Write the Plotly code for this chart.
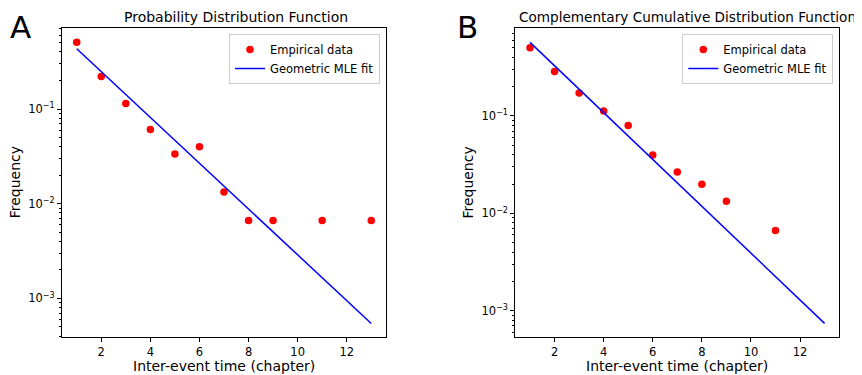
import plotly.graph_objects as go

# ---- data ----
x_pdf = [1, 2, 3, 4, 5, 6, 7, 8, 9, 11, 13]
pdf_emp = [0.507, 0.221, 0.114, 0.0607, 0.0335, 0.040, 0.0133, 0.00667, 0.00667, 0.00667, 0.00667]
x_fit = [1, 13]
pdf_fit = [0.433, 5.44e-4]

x_ccdf = [1, 2, 3, 4, 5, 6, 7, 8, 9, 11]
ccdf_emp = [0.503, 0.286, 0.172, 0.1125, 0.0797, 0.0398, 0.0266, 0.0199, 0.0133, 0.00664]
ccdf_fit = [0.571, 7.4e-4]

y_tickvals = [1e-3, 1e-2, 1e-1]
y_ticktext = ["10<sup>−3</sup>", "10<sup>−2</sup>", "10<sup>−1</sup>"]
x_tickvals = [2, 4, 6, 8, 10, 12]
minor_vals = [k * 10.0 ** e for e in range(-4, 0) for k in range(2, 10)]

titles = ["Probability Distribution Function", "Complementary Cumulative Distribution Function"]
panel_letters = ["A", "B"]
xlabel = "Inter-event time (chapter)"
ylabel = "Frequency"
legend_names = ["Empirical data", "Geometric MLE fit"]

# page is 862x375 but the html body has an 8px margin, so the figure is a bit smaller
OFF = 8
W, H = 862 - OFF, 375 - OFF
FONT = "DejaVu Sans"
RED = "#ff0000"
BLUE = "#0000ff"


def px(p):
    return (p - OFF) / W


def py(p):
    return 1 - (p - OFF) / H


fig = go.Figure()

fig.add_trace(go.Scatter(x=x_pdf, y=pdf_emp, mode="markers", name=legend_names[0],
                         marker=dict(color=RED, size=7.5), xaxis="x", yaxis="y", legend="legend"))
fig.add_trace(go.Scatter(x=x_fit, y=pdf_fit, mode="lines", name=legend_names[1],
                         line=dict(color=BLUE, width=1.5), xaxis="x", yaxis="y", legend="legend"))
fig.add_trace(go.Scatter(x=x_ccdf, y=ccdf_emp, mode="markers", name=legend_names[0],
                         marker=dict(color=RED, size=7.5), xaxis="x2", yaxis="y2", legend="legend2"))
fig.add_trace(go.Scatter(x=x_fit, y=ccdf_fit, mode="lines", name=legend_names[1],
                         line=dict(color=BLUE, width=1.5), xaxis="x2", yaxis="y2", legend="legend2"))

# axes boxes in page pixels (left, right, top, bottom)
boxA = (62, 386, 28.3, 337.3)
boxB = (515.3, 839.3, 28.3, 337.3)


def dom(box):
    l, r, t, b = box
    return [px(l), px(r)], [py(b), py(t)]


axis_common = dict(showline=True, mirror=True, linecolor="black", linewidth=1,
                   ticks="outside", ticklen=4, tickwidth=1, tickcolor="black",
                   showgrid=False, zeroline=False,
                   tickfont=dict(family=FONT, size=11.5, color="black"))

xdA, ydA = dom(boxA)
xdB, ydB = dom(boxB)

fig.update_layout(
    width=W, height=H,
    margin=dict(l=0, r=0, t=0, b=0),
    paper_bgcolor="white", plot_bgcolor="white",
    font=dict(family=FONT, color="black"),
    xaxis=dict(domain=xdA, range=[0.4, 13.6], tickvals=x_tickvals, anchor="y", **axis_common),
    yaxis=dict(domain=ydA, type="log", range=[-3.41, -0.148], tickvals=y_tickvals, ticktext=y_ticktext,
               anchor="x", minor=dict(tickvals=minor_vals, ticks="outside", ticklen=2, tickcolor="black"),
               **axis_common),
    xaxis2=dict(domain=xdB, range=[0.4, 13.6], tickvals=x_tickvals, anchor="y2", **axis_common),
    yaxis2=dict(domain=ydB, type="log", range=[-3.274, -0.099], tickvals=y_tickvals, ticktext=y_ticktext,
                anchor="x2", minor=dict(tickvals=minor_vals, ticks="outside", ticklen=2, tickcolor="black"),
                **axis_common),
    legend=dict(x=px(380), xanchor="right", y=py(34), yanchor="top",
                bgcolor="rgba(255,255,255,0.8)", bordercolor="#cccccc", borderwidth=1,
                font=dict(family=FONT, size=11.5, color="black")),
    legend2=dict(x=px(833.3), xanchor="right", y=py(34), yanchor="top",
                 bgcolor="rgba(255,255,255,0.8)", bordercolor="#cccccc", borderwidth=1,
                 font=dict(family=FONT, size=11.5, color="black")),
)

ann = []
# titles
ann.append(dict(text=titles[0], x=px(236.3), y=py(17), xref="paper", yref="paper",
                xanchor="center", yanchor="middle", showarrow=False,
                font=dict(family=FONT, size=14, color="black")))
ann.append(dict(text=titles[1], x=px(517), y=py(17), xref="paper", yref="paper",
                xanchor="left", yanchor="middle", showarrow=False,
                font=dict(family=FONT, size=13.6, color="black")))
# panel letters
for lx, t in zip([8, 455], panel_letters):
    ann.append(dict(text=t, x=px(lx), y=py(27), xref="paper", yref="paper",
                    xanchor="left", yanchor="middle", showarrow=False,
                    font=dict(family=FONT, size=31, color="black")))
# axis labels
for box in (boxA, boxB):
    l, r, t, b = box
    ann.append(dict(text=xlabel, x=px((l + r) / 2), y=py(366), xref="paper", yref="paper",
                    xanchor="center", yanchor="middle", showarrow=False,
                    font=dict(family=FONT, size=14, color="black")))
    ann.append(dict(text=ylabel, x=px(l - 47.5), y=py((t + b) / 2), xref="paper", yref="paper",
                    xanchor="center", yanchor="middle", showarrow=False, textangle=-90,
                    font=dict(family=FONT, size=14, color="black")))
fig.update_layout(annotations=ann)

fig.write_html("out.html")
